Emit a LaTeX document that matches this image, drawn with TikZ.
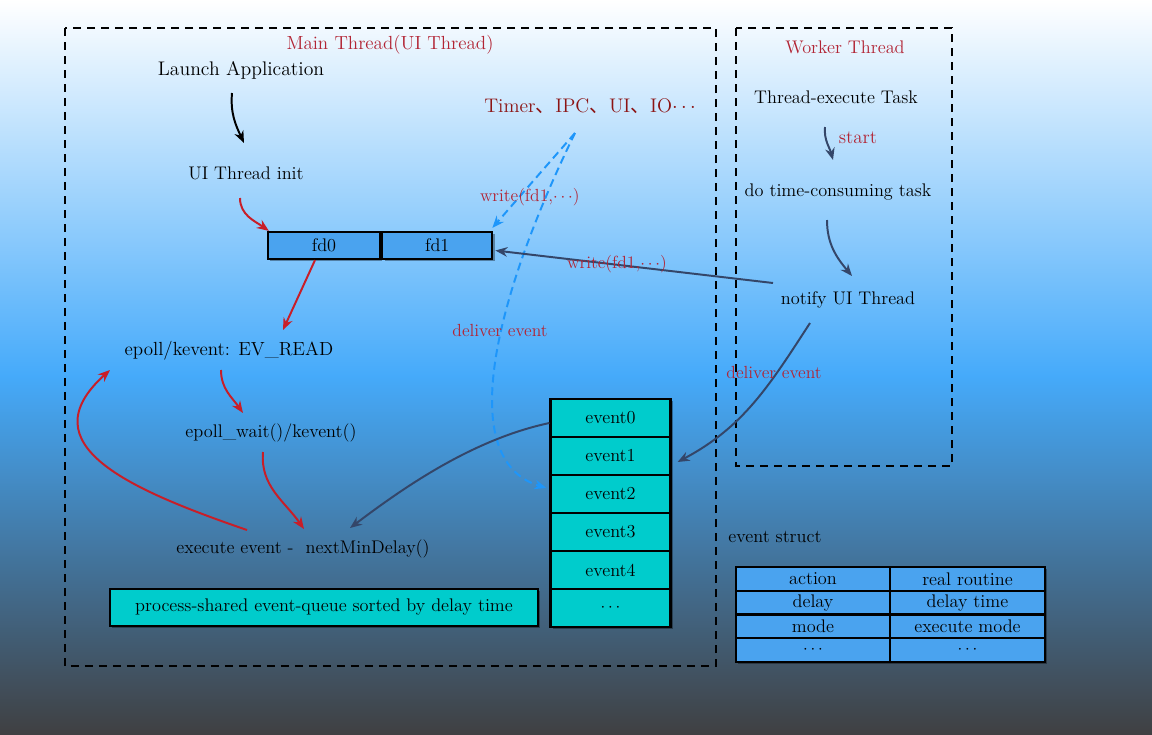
\documentclass[tikz,border=0pt]{standalone}
\usepackage{fontspec}
\newfontfamily\cjk{Noto Sans CJK SC}
\usetikzlibrary{arrows.meta,shadows}
\definecolor{bgblue}{RGB}{69,170,250}
\definecolor{bgmid}{RGB}{72,128,180}
\definecolor{bggray}{RGB}{64,64,66}
\definecolor{lblred}{RGB}{178,36,52}
\definecolor{srcred}{RGB}{140,20,20}
\definecolor{arrred}{RGB}{200,30,40}
\definecolor{slate}{RGB}{52,70,105}
\definecolor{dashblue}{RGB}{30,150,250}
\definecolor{fdblue}{RGB}{74,163,239}
\definecolor{evcyan}{RGB}{0,204,204}
\tikzset{
  txt/.style={font=\fontsize{13}{15}\selectfont},
  lbl/.style={font=\fontsize{12.5}{14}\selectfont,text=lblred},
  cell/.style={draw=black,line width=1.6pt,inner sep=0pt,font=\fontsize{13}{15}\selectfont,
    drop shadow={shadow xshift=0.6mm,shadow yshift=-0.6mm,opacity=0.35,fill=black}},
  frame/.style={draw=black,line width=1.3pt,dash pattern=on 2mm off 1.5mm},
  redarr/.style={arrred,line width=1.4pt,-{Stealth[length=3mm,width=2.4mm]}},
  slatearr/.style={slate,line width=1.4pt,-{Stealth[length=3mm,width=2.4mm]}},
  blackarr/.style={black,line width=1.4pt,-{Stealth[length=3mm,width=2.4mm]}},
  bluearr/.style={dashblue,line width=1.4pt,dash pattern=on 2mm off 1.2mm,-{Stealth[length=3mm,width=2.4mm]}},
}
\begin{document}
\begin{tikzpicture}
% background
\shade[top color=white,bottom color=bgblue] (0mm,0mm) rectangle (288mm,-94.2mm);
\shade[top color=bgblue,middle color=bgmid,bottom color=bggray] (0mm,-94mm) rectangle (288mm,-183.5mm);
\useasboundingbox (0mm,0mm) rectangle (288mm,-183.5mm);
% thread frames
\path[frame] (16.25mm,-7mm) rectangle (179mm,-166.5mm);
\path[frame] (184mm,-7mm) rectangle (238mm,-116.5mm);
\node[txt,text=lblred,font=\fontsize{13.5}{15}\selectfont] (mainT) at (97.5mm,-11.25mm) {Main Thread(UI Thread)};
\node[txt,text=lblred] (workT) at (211.25mm,-11.75mm) {Worker Thread};
% main thread
\node[txt,font=\fontsize{14}{16}\selectfont] (launch) at (60.25mm,-17.5mm) {Launch Application};
\node[txt] (init) at (61.5mm,-43.25mm) {UI Thread init};
\node[cell,fill=fdblue,minimum width=28mm,minimum height=6.75mm] (fd0) at (81mm,-61.375mm) {fd0};
\node[cell,fill=fdblue,minimum width=27.5mm,minimum height=6.75mm,anchor=west] (fd1) at (fd0.east) {fd1};
\node[txt,text=srcred,font=\fontsize{14}{16}\selectfont] (src) at (147.5mm,-26.5mm) {Timer{\cjk 、}IPC{\cjk 、}UI{\cjk 、}IO$\cdots$};
\coordinate (srcout) at (143.75mm,-33.25mm);
\node[txt,font=\fontsize{13.5}{15}\selectfont] (epoll) at (57.25mm,-87.75mm) {epoll/kevent: EV\_READ};
\node[txt] (wait) at (67.75mm,-108.25mm) {epoll\_wait()/kevent()};
\node[txt] (exec) at (75.75mm,-137.25mm) {execute event -\ \ nextMinDelay()};
\node[cell,fill=evcyan,minimum width=107mm,minimum height=9.25mm] (queue) at (81mm,-151.875mm) {process-shared event-queue sorted by delay time};
\foreach \t [count=\i from 0] in {event0,event1,event2,event3,event4,$\cdots$}
  \node[cell,fill=evcyan,minimum width=30mm,minimum height=9.5mm] (ev\i) at (152.625mm,{-104.5mm-9.5mm*\i}) {\t};
% worker thread
\node[txt] (task) at (209mm,-24.25mm) {Thread-execute Task};
\node[txt] (dotask) at (209.5mm,-48mm) {do time-consuming task};
\node[txt] (notify) at (212mm,-75mm) {notify UI Thread};
% event struct
\node[txt] (structT) at (193.75mm,-134.25mm) {event struct};
\foreach \a/\b [count=\i from 0] in {action/real routine,delay/delay time,mode/execute mode,$\cdots$/$\cdots$} {
  \node[cell,fill=fdblue,minimum width=38.5mm,minimum height=5.94mm] (sa\i) at (203.25mm,{-144.72mm-5.9375mm*\i}) {\a};
  \node[cell,fill=fdblue,minimum width=38.75mm,minimum height=5.94mm] (sb\i) at (241.875mm,{-144.72mm-5.9375mm*\i}) {\b};
}
% main thread flow
\path[blackarr,draw] ([shift={(-2.25mm,-5.75mm)}]launch.center)
to [out=265,in=115] ([shift={(-0.5mm,7.5mm)}]init.center);
\path[redarr,draw] ([shift={(-1.5mm,-6.25mm)}]init.center)
to [out=270,in=145] ([xshift=0.5mm]fd0.north west);
\path[redarr,draw] ([xshift=-2.25mm]fd0.south)
-- ([shift={(13.5mm,5.25mm)}]epoll.center);
\path[redarr,draw] ([shift={(-2mm,-4.75mm)}]epoll.center)
to [out=270,in=125] ([shift={(-7mm,5mm)}]wait.center);
\path[redarr,draw] ([shift={(-2mm,-4.75mm)}]wait.center)
to [out=265,in=125] ([shift={(0.25mm,5mm)}]exec.center);
\path[redarr,draw] ([shift={(-14mm,4.75mm)}]exec.center)
.. controls +(161:31mm) and +(222:28mm) .. ([shift={(-29.75mm,-4.75mm)}]epoll.center);
% outside sources
\path[bluearr,draw] (srcout) -- ([shift={(-0.25mm,0.75mm)}]fd1.north east)
node[lbl,pos=0.68,xshift=2.75mm] (wr1) {write(fd1,$\cdots$)};
\path[bluearr,draw] (srcout) .. controls +(244:46mm) and +(163:24mm) .. ([shift={(-0.75mm,1.5mm)}]ev2.west);
\node[lbl] (dlv1) at (125mm,-82.5mm) {deliver event};
\path[slatearr,draw] ([yshift=-1.25mm]ev0.west)
.. controls +(192:20mm) and +(37:16mm) .. ([shift={(11.75mm,5.25mm)}]exec.center);
% worker flow
\path[slatearr,draw] ([shift={(-2.75mm,-7.5mm)}]task.center)
to [out=265,in=105] ([shift={(-1.25mm,8mm)}]dotask.center);
\node[lbl,font=\fontsize{13.5}{15}\selectfont] (startL) at (214.5mm,-34.5mm) {start};
\path[slatearr,draw] ([shift={(-2.75mm,-7mm)}]dotask.center)
to [out=270,in=130] ([shift={(1mm,6mm)}]notify.center);
\path[slatearr,draw] ([shift={(-18.75mm,4.25mm)}]notify.center)
-- ([shift={(0.5mm,-1.25mm)}]fd1.east);
\node[lbl] (wr2) at (154.25mm,-66mm) {write(fd1,$\cdots$)};
\path[slatearr,draw] ([shift={(-9.5mm,-5.75mm)}]notify.center)
to [out=237,in=28] ([shift={(1.5mm,-1.5mm)}]ev1.east);
\node[lbl] (dlv2) at (193.5mm,-93mm) {deliver event};
\end{tikzpicture}
\end{document}
